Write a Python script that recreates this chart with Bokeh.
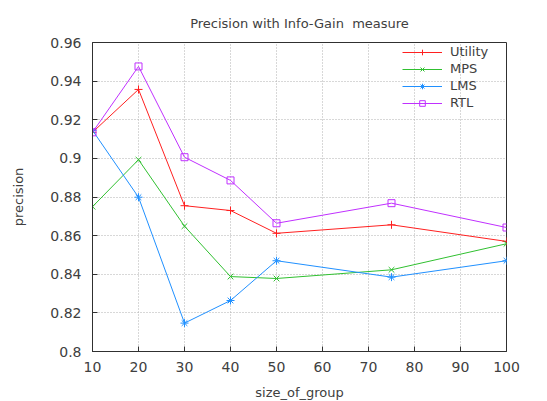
from bokeh.plotting import figure
from bokeh.models import Legend, LegendItem, FixedTicker, Range1d
from bokeh.embed import file_html
from bokeh.resources import INLINE

group_size = [10, 20, 30, 40, 50, 75, 100]
utility = [0.9135, 0.9357, 0.8755, 0.8730, 0.8612, 0.8656, 0.8570]
mps = [0.8750, 0.8993, 0.8649, 0.8388, 0.8378, 0.8423, 0.8558]
lms = [0.9145, 0.8799, 0.8147, 0.8264, 0.8470, 0.8385, 0.8470]
rtl = [0.9135, 0.9476, 0.9006, 0.8886, 0.8664, 0.8768, 0.8642]

x_ticks = [10, 20, 30, 40, 50, 60, 70, 80, 90, 100]
y_ticks = [0.8, 0.82, 0.84, 0.86, 0.88, 0.9, 0.92, 0.94, 0.96]

FONT = "DejaVu Sans"
TXT = "#404040"

p = figure(frame_width=414, frame_height=309, output_backend="svg", toolbar_location=None,
           x_range=Range1d(10, 100), y_range=Range1d(0.8, 0.96),
           min_border_left=92, min_border_right=41, min_border_top=42, min_border_bottom=48,
           title="Precision with Info-Gain\u00a0 measure")
p.title.align = "center"
p.title.text_font = FONT
p.title.text_font_size = "13px"
p.title.text_font_style = "normal"
p.title.text_color = TXT
p.title.offset = 0
p.title.standoff = 24
p.outline_line_color = "#303030"
p.outline_line_width = 1
p.background_fill_color = "white"
p.border_fill_color = "white"

for ax in (p.xaxis[0], p.yaxis[0]):
    ax.major_label_text_font = FONT
    ax.major_label_text_font_size = "14px"
    ax.major_label_text_color = TXT
    ax.axis_label_text_font = FONT
    ax.axis_label_text_font_size = "13px"
    ax.axis_label_text_font_style = "normal"
    ax.axis_label_text_color = TXT
    ax.major_tick_in = 5
    ax.major_tick_out = 0
    ax.minor_tick_in = 0
    ax.minor_tick_out = 0
    ax.axis_line_color = "#303030"
    ax.major_tick_line_color = "#303030"

p.xaxis[0].ticker = FixedTicker(ticks=x_ticks)
p.yaxis[0].ticker = FixedTicker(ticks=y_ticks)
p.yaxis[0].major_label_overrides = {t: f"{t:g}" for t in y_ticks}
p.xaxis[0].axis_label = "size_of_group"
p.yaxis[0].axis_label = "precision"
p.xaxis[0].major_label_standoff = 10
p.yaxis[0].major_label_standoff = 11
p.xaxis[0].axis_label_standoff = 10
p.yaxis[0].axis_label_standoff = 21

p.xgrid.ticker = FixedTicker(ticks=x_ticks)
p.ygrid.ticker = FixedTicker(ticks=y_ticks)
for g in (p.xgrid[0], p.ygrid[0]):
    g.grid_line_color = "#b0b0b0"
    g.grid_line_dash = "1 2"
    g.grid_line_width = 1

series = [
    ("Utility", utility, "#ff2020", "cross", 8),
    ("MPS", mps, "#30c030", "x", 8),
    ("LMS", lms, "#2090ff", "asterisk", 8),
    ("RTL", rtl, "#c030ff", "square", 7),
]
items = []
for name, ys, color, marker, size in series:
    ln = p.line(group_size, ys, line_color=color, line_width=1)
    sc = p.scatter(group_size, ys, marker=marker, size=size, line_color=color,
                   fill_color=None, line_width=1)
    items.append(LegendItem(label=name, renderers=[ln, sc]))

legend = Legend(items=items, location="top_right")
legend.border_line_color = None
legend.background_fill_alpha = 0
legend.label_text_font = FONT
legend.label_text_font_size = "13px"
legend.label_text_color = TXT
legend.glyph_width = 40
legend.glyph_height = 14
legend.label_height = 14
legend.label_width = 54
legend.spacing = 2
legend.padding = 2
legend.margin = 2
legend.label_standoff = 8
p.add_layout(legend)

open("out.html", "w").write(file_html(p, INLINE))
